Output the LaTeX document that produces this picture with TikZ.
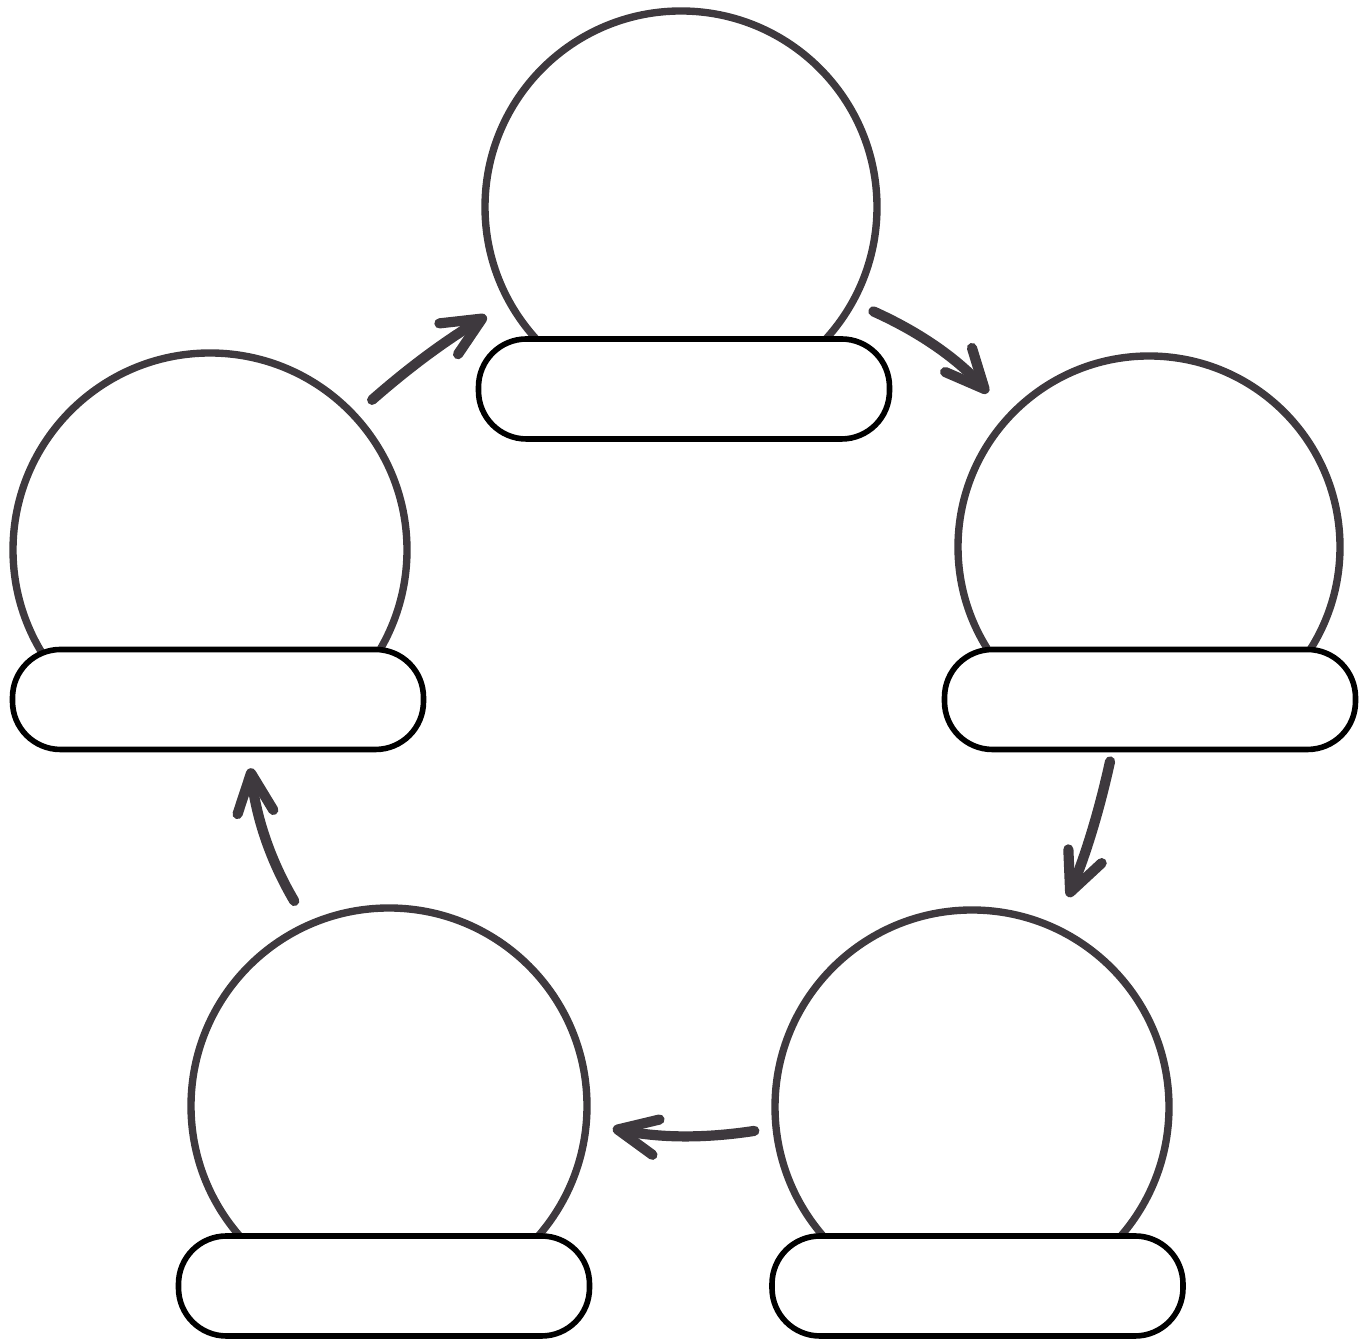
\documentclass[tikz,border=0pt]{standalone}
\usetikzlibrary{shapes.misc, arrows.meta}
\definecolor{ink}{RGB}{62,57,62}
\begin{document}
\begin{tikzpicture}[
  globe/.style = {circle, draw = ink, line width = 2.1pt, outer sep = 0pt, inner sep = 0pt},
  base/.style = {rectangle, rounded corners = 0.48cm, draw = black, fill = white, line width = 1.6pt, minimum width = 4.11cm, minimum height = 1.0cm},
  cycle arrow/.style = {ink, line width = 2.9pt, line cap = round, -{Straight Barb[length = 3.9mm, width = 3.6mm, round]}}
]
\useasboundingbox (0, 0) rectangle (13.71, 13.40);

\node[globe, minimum size = 3.92cm] (topglobe) at (6.81, 11.33) {};
\node[globe, minimum size = 3.82cm] (rightglobe) at (11.49, 7.93) {};
\node[globe, minimum size = 3.94cm] (leftglobe) at (2.10, 7.90) {};
\node[globe, minimum size = 3.94cm] (lowrightglobe) at (9.72, 2.33) {};
\node[globe, minimum size = 3.96cm] (lowleftglobe) at (3.89, 2.34) {};

\node[base] (topbase) at (6.84, 9.51) {};
\node[base] (rightbase) at (11.50, 6.405) {};
\node[base] (leftbase) at (2.18, 6.405) {};
\node[base] (lowrightbase) at (9.775, 0.54) {};
\node[base] (lowleftbase) at (3.84, 0.54) {};

\draw[cycle arrow, shorten <= 0.24cm, shorten >= 0.27cm] (leftglobe.43) to[bend left = 5] (topglobe.209);
\draw[cycle arrow, shorten <= 0.23cm, shorten >= 0.32cm] (topglobe.-29) to[bend left = 12] (rightglobe.137);
\draw[cycle arrow, shorten <= 0.27cm, shorten >= 0.34cm] (rightglobe.-100) to[bend left = 5] (lowrightglobe.65);
\draw[cycle arrow, shorten <= 0.22cm, shorten >= 0.27cm] (lowrightglobe.186) to[bend left = 10] (lowleftglobe.-5);
\draw[cycle arrow, shorten <= 0.28cm, shorten >= 0.25cm] (lowleftglobe.114) to[bend left = 12] (leftglobe.-79);
\end{tikzpicture}
\end{document}
